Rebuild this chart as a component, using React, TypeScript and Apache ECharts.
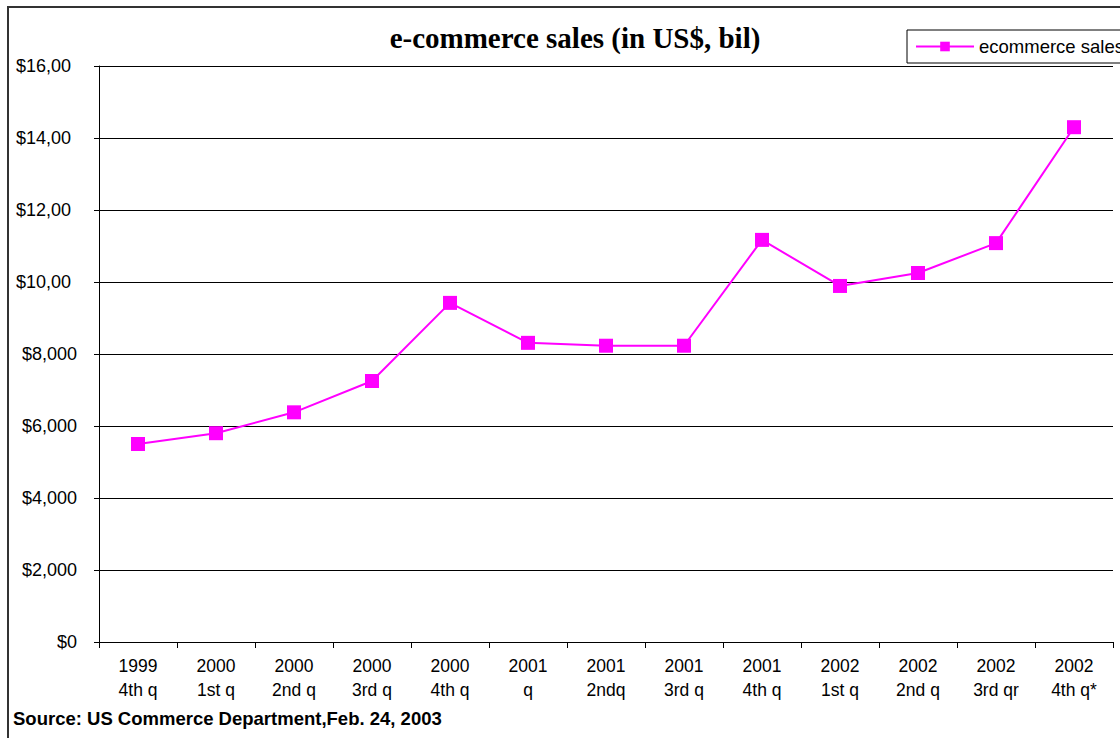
import React, { useEffect, useRef } from "react";
import * as echarts from "echarts";

const categories = [
  "1999\n4th q",
  "2000\n1st q",
  "2000\n2nd q",
  "2000\n3rd q",
  "2000\n4th q",
  "2001\nq",
  "2001\n2ndq",
  "2001\n3rd q",
  "2001\n4th q",
  "2002\n1st q",
  "2002\n2nd q",
  "2002\n3rd qr",
  "2002\n4th q*",
];

const salesValues = [5500, 5800, 6380, 7250, 9420, 8310, 8230, 8230, 11170, 9890, 10250, 11080, 14300];

const yTickLabels: Record<number, string> = {
  0: "$0",
  2000: "$2,000",
  4000: "$4,000",
  6000: "$6,000",
  8000: "$8,000",
  10000: "$10,00",
  12000: "$12,00",
  14000: "$14,00",
  16000: "$16,00",
};

const FONT = "'Liberation Sans', Arial, sans-serif";

export default function App() {
  const ref = useRef<HTMLDivElement>(null);
  useEffect(() => {
    if (!ref.current) return;
    const chart = echarts.init(ref.current, undefined, { renderer: "svg" });
    chart.setOption({
      animation: false,
      backgroundColor: "#ffffff",
      title: {
        text: "e-commerce sales (in US$, bil)",
        left: 570,
        textAlign: "center",
        top: 18,
        textStyle: {
          fontFamily: "'Liberation Serif', 'Times New Roman', serif",
          fontWeight: "bold",
          fontSize: 29,
          color: "#000",
        },
      },
      legend: {
        left: 907,
        top: 30,
        orient: "horizontal",
        borderColor: "#000",
        borderWidth: 1,
        padding: [7, 8, 7, 8],
        itemWidth: 58,
        itemHeight: 12,
        itemGap: 5,
        textStyle: { fontFamily: FONT, fontSize: 18.5, color: "#000" },
        data: ["ecommerce sales"],
      },
      grid: { left: 99, right: 7, top: 66, bottom: 96, containLabel: false },
      xAxis: {
        type: "category",
        data: categories,
        boundaryGap: true,
        axisLine: { lineStyle: { color: "#000", width: 1 } },
        axisTick: { show: true, length: 6, lineStyle: { color: "#000" } },
        axisLabel: {
          fontFamily: FONT,
          fontSize: 17.5,
          color: "#000",
          lineHeight: 24,
          margin: 12,
          interval: 0,
        },
        splitLine: { show: false },
      },
      yAxis: {
        type: "value",
        min: 0,
        max: 16000,
        interval: 2000,
        axisLine: { show: true, lineStyle: { color: "#000", width: 1 } },
        axisTick: { show: true, length: 5, lineStyle: { color: "#000" } },
        axisLabel: {
          fontFamily: FONT,
          fontSize: 18,
          color: "#000",
          margin: 22,
          formatter: (v: number) => {
            const s = yTickLabels[v] ?? String(v);
            return v >= 10000 ? "{t|" + s + "}" : s;
          },
          rich: {
            t: { fontFamily: FONT, fontSize: 18, color: "#000", padding: [0, 6, 0, 0] },
          },
        },
        splitLine: { show: true, lineStyle: { color: "#000", width: 1 } },
      },
      series: [
        {
          name: "ecommerce sales",
          type: "line",
          data: salesValues,
          symbol: "rect",
          symbolSize: 14,
          lineStyle: { color: "#FF00FF", width: 2 },
          itemStyle: { color: "#FF00FF" },
        },
      ],
      graphic: [
        {
          type: "polyline",
          shape: { points: [[8, 760], [8, 7], [1130, 7]] },
          style: { stroke: "#333", lineWidth: 2, fill: "none" },
          silent: true,
        },
        {
          type: "text",
          left: 13,
          top: 709,
          style: {
            text: "Source: US Commerce Department,Feb. 24, 2003",
            fontFamily: FONT,
            fontWeight: "bold",
            fontSize: 18.5,
            fill: "#000",
          },
        },
      ],
    });
    return () => chart.dispose();
  }, []);
  return (
    <div
      ref={ref}
      style={{ position: "absolute", left: 0, top: 0, width: 1120, height: 738 }}
    />
  );
}
